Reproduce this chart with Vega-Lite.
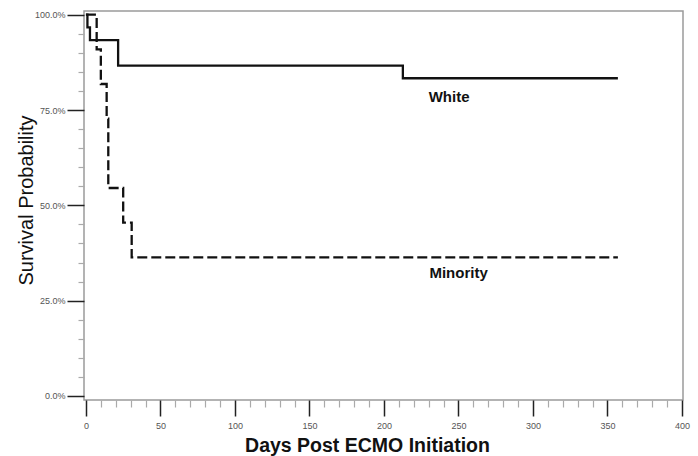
{
  "$schema": "https://vega.github.io/schema/vega-lite/v6.json",
  "width": 599,
  "height": 389,
  "autosize": "none",
  "padding": {"left": 84, "top": 11, "right": 15, "bottom": 56},
  "background": "white",
  "config": {
    "view": {"stroke": "#9a9a9a", "strokeWidth": 1.5},
    "font": "Liberation Sans"
  },
  "datasets": {
    "curves": [
      {"group": "White", "day": 0, "survival": 1.0},
      {"group": "White", "day": 1, "survival": 0.9667},
      {"group": "White", "day": 2.7, "survival": 0.9333},
      {"group": "White", "day": 21.6, "survival": 0.8667},
      {"group": "White", "day": 212.7, "survival": 0.8333},
      {"group": "White", "day": 357, "survival": 0.8333},
      {"group": "Minority", "day": 0, "survival": 1.0},
      {"group": "Minority", "day": 7.2, "survival": 0.9091},
      {"group": "Minority", "day": 10, "survival": 0.8182},
      {"group": "Minority", "day": 13.9, "survival": 0.7273},
      {"group": "Minority", "day": 15, "survival": 0.5455},
      {"group": "Minority", "day": 25, "survival": 0.4545},
      {"group": "Minority", "day": 30.7, "survival": 0.3636},
      {"group": "Minority", "day": 357, "survival": 0.3636}
    ],
    "labels": [
      {"label": "White", "day": 230, "survival": 0.785},
      {"label": "Minority", "day": 230.5, "survival": 0.322}
    ]
  },
  "layer": [
    {
      "data": {"name": "curves"},
      "mark": {"type": "line", "interpolate": "step-after", "strokeWidth": 2.3, "color": "#111111"},
      "encoding": {
        "x": {
          "field": "day", "type": "quantitative",
          "scale": {"domain": [-1.3, 400.7], "nice": false, "zero": false},
          "axis": {
            "orient": "bottom",
            "values": [0, 50, 100, 150, 200, 250, 300, 350, 400],
            "tickSize": 16, "tickColor": "#222222", "tickWidth": 1.5,
            "labelFontSize": 9, "labelColor": "#555555", "labelPadding": 5,
            "labelFont": "Liberation Sans",
            "domain": false, "grid": false,
            "title": "Days Post ECMO Initiation",
            "titleFontSize": 19.5, "titleFontWeight": "bold", "titleColor": "#111111",
            "titleFont": "Liberation Sans",
            "titleX": 283, "titleY": 51.7, "titleBaseline": "alphabetic", "titleAlign": "center"
          }
        },
        "y": {
          "field": "survival", "type": "quantitative",
          "scale": {"domain": [-0.0105, 1.0097], "nice": false, "zero": false},
          "axis": {
            "orient": "left",
            "values": [0, 0.25, 0.5, 0.75, 1],
            "format": ".1%",
            "tickSize": 17, "tickColor": "#222222", "tickWidth": 1.5,
            "labelFontSize": 9, "labelColor": "#555555", "labelPadding": 2,
            "labelFont": "Liberation Sans",
            "domain": false, "grid": false,
            "title": "Survival Probability",
            "titleFontSize": 20, "titleFontWeight": "normal", "titleColor": "#111111",
            "titleFont": "Liberation Sans",
            "titleAngle": -90,
            "titleX": -52, "titleY": 189, "titleBaseline": "alphabetic", "titleAlign": "center"
          }
        },
        "strokeDash": {
          "field": "group", "type": "nominal",
          "scale": {"domain": ["White", "Minority"], "range": [[1, 0], [10, 4]]},
          "legend": null
        }
      }
    },
    {
      "data": {"name": "labels"},
      "mark": {"type": "text", "align": "left", "baseline": "middle", "fontWeight": "bold", "fontSize": 15, "color": "#111111", "font": "Liberation Sans"},
      "encoding": {
        "x": {
          "field": "day", "type": "quantitative",
          "scale": {"domain": [-1.3, 400.7], "nice": false, "zero": false},
          "axis": {
            "orient": "bottom",
            "values": [10, 20, 30, 40, 60, 70, 80, 90, 110, 120, 130, 140, 160, 170, 180, 190, 210, 220, 230, 240, 260, 270, 280, 290, 310, 320, 330, 340, 360, 370, 380, 390],
            "tickSize": 7, "tickColor": "#aaaaaa", "tickWidth": 1.2,
            "labels": false, "domain": false, "grid": false, "title": null
          }
        },
        "y": {
          "field": "survival", "type": "quantitative",
          "scale": {"domain": [-0.0105, 1.0097], "nice": false, "zero": false},
          "axis": {
            "orient": "left",
            "values": [0.05, 0.1, 0.15, 0.2, 0.3, 0.35, 0.4, 0.45, 0.55, 0.6, 0.65, 0.7, 0.8, 0.85, 0.9, 0.95],
            "tickSize": 6, "tickColor": "#aaaaaa", "tickWidth": 1.2,
            "labels": false, "domain": false, "grid": false, "title": null
          }
        },
        "text": {"field": "label", "type": "nominal"}
      }
    }
  ],
  "resolve": {"axis": {"x": "independent", "y": "independent"}}
}
